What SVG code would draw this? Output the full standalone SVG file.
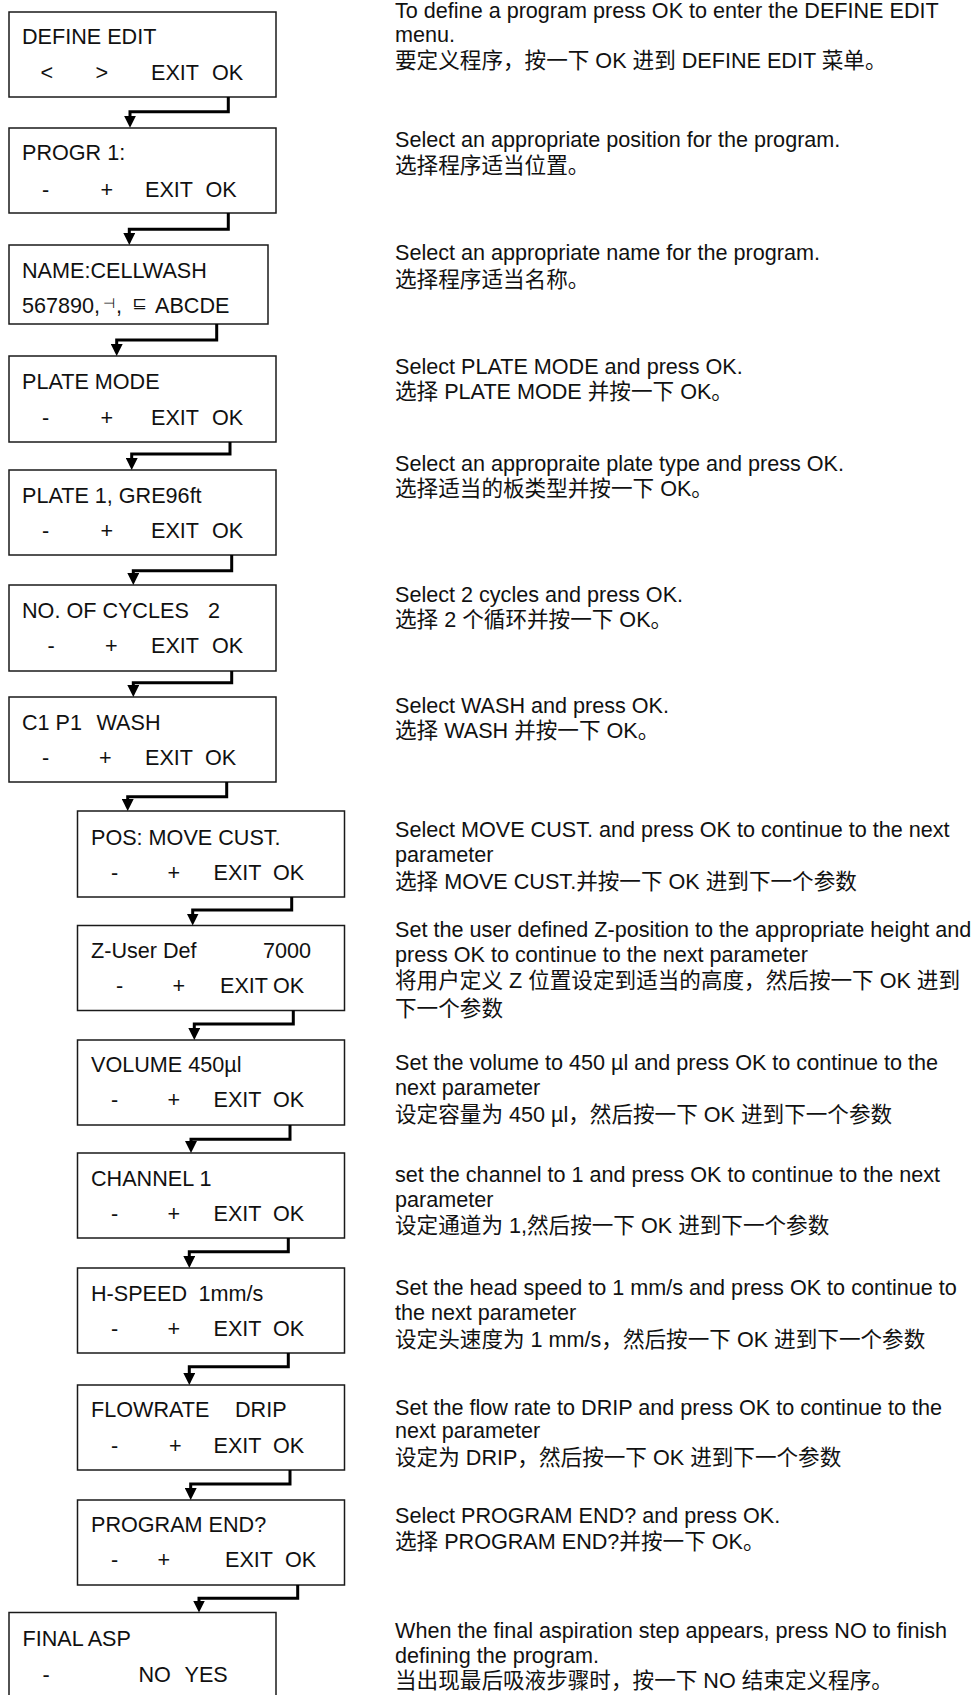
<svg xmlns="http://www.w3.org/2000/svg" width="976" height="1695" viewBox="0 0 976 1695">
<style>
.box{fill:#fff;stroke:#1a1a1a;stroke-width:1.5}
.b{font-family:"Liberation Sans",Arial,sans-serif;font-size:21.6px;fill:#111}
.t{font-family:"Liberation Sans",Arial,"Noto Sans CJK SC",sans-serif;font-size:21.6px;fill:#111}
.sym{font-family:"DejaVu Sans",sans-serif;font-size:14px;fill:#111}
.c{fill:none;stroke:#000;stroke-width:3;marker-end:url(#ah)}
</style>
<defs>
<marker id="ah" viewBox="0 0 12 12" refX="4" refY="6" markerWidth="12" markerHeight="12" markerUnits="userSpaceOnUse" orient="auto"><path d="M0,0 L12,6 L0,12 z" fill="#000"/></marker>
</defs>
<rect width="976" height="1695" fill="#fff"/>

<g id="n1"><rect class="box" x="9" y="12" width="267" height="85"/>
<text class="b" x="22" y="44">DEFINE EDIT</text>
<text class="b" x="40.5" y="80">&lt;</text><text class="b" x="95.5" y="80">&gt;</text><text class="b" x="151" y="80">EXIT</text><text class="b" x="212" y="80">OK</text></g>

<g id="n2"><rect class="box" x="9" y="128" width="267" height="85"/>
<text class="b" x="22" y="160">PROGR 1:</text>
<text class="b" x="42" y="196.7">-</text><text class="b" x="100.5" y="196.7">+</text><text class="b" x="145" y="196.7">EXIT</text><text class="b" x="205.5" y="196.7">OK</text></g>

<g id="n3"><rect class="box" x="9" y="245" width="259" height="79"/>
<text class="b" x="22" y="278.3">NAME:CELLWASH</text>
<text class="b" x="22" y="313.3">567890,</text><text class="sym" x="103" y="307.5">⊣</text><text class="b" x="116" y="313.3">,</text><text class="sym" transform="translate(132,307.5) scale(1.25,1)" x="0" y="0">⊑</text><text class="b" x="155" y="313.3">ABCDE</text></g>

<g id="n4"><rect class="box" x="9" y="356" width="267" height="86"/>
<text class="b" x="22" y="389">PLATE MODE</text>
<text class="b" x="42" y="425">-</text><text class="b" x="100.5" y="425">+</text><text class="b" x="151" y="425">EXIT</text><text class="b" x="212" y="425">OK</text></g>

<g id="n5"><rect class="box" x="9" y="470" width="267" height="85"/>
<text class="b" x="22" y="502.7">PLATE 1, GRE96ft</text>
<text class="b" x="42" y="538.3">-</text><text class="b" x="100.5" y="538.3">+</text><text class="b" x="151" y="538.3">EXIT</text><text class="b" x="212" y="538.3">OK</text></g>

<g id="n6"><rect class="box" x="9" y="585" width="267" height="86"/>
<text class="b" x="22" y="617.7">NO. OF CYCLES</text><text class="b" x="208" y="617.7">2</text>
<text class="b" x="47.5" y="653.3">-</text><text class="b" x="105" y="653.3">+</text><text class="b" x="151" y="653.3">EXIT</text><text class="b" x="212" y="653.3">OK</text></g>

<g id="n7"><rect class="box" x="9" y="697" width="267" height="85"/>
<text class="b" x="22" y="730">C1 P1</text><text class="b" x="96.5" y="730">WASH</text>
<text class="b" x="42" y="765">-</text><text class="b" x="99" y="765">+</text><text class="b" x="145" y="765">EXIT</text><text class="b" x="205" y="765">OK</text></g>

<g id="n8"><rect class="box" x="77.5" y="811" width="267" height="86"/>
<text class="b" x="91" y="845">POS: MOVE CUST.</text>
<text class="b" x="111" y="880">-</text><text class="b" x="167.5" y="880">+</text><text class="b" x="213.5" y="880">EXIT</text><text class="b" x="273" y="880">OK</text></g>

<g id="n9"><rect class="box" x="77.5" y="925.5" width="267" height="85"/>
<text class="b" x="91" y="957.7">Z-User Def</text><text class="b" x="263" y="957.7">7000</text>
<text class="b" x="116" y="992.7">-</text><text class="b" x="172.5" y="992.7">+</text><text class="b" x="220" y="992.7">EXIT</text><text class="b" x="273" y="992.7">OK</text></g>

<g id="n10"><rect class="box" x="77.5" y="1040" width="267" height="85"/>
<text class="b" x="91" y="1072.3">VOLUME 450µl</text>
<text class="b" x="111" y="1107.3">-</text><text class="b" x="167.5" y="1107.3">+</text><text class="b" x="213.5" y="1107.3">EXIT</text><text class="b" x="273" y="1107.3">OK</text></g>

<g id="n11"><rect class="box" x="77.5" y="1153" width="267" height="85"/>
<text class="b" x="91" y="1185.7">CHANNEL 1</text>
<text class="b" x="111" y="1220.7">-</text><text class="b" x="167.5" y="1220.7">+</text><text class="b" x="213.5" y="1220.7">EXIT</text><text class="b" x="273" y="1220.7">OK</text></g>

<g id="n12"><rect class="box" x="77.5" y="1268" width="267" height="85"/>
<text class="b" x="91" y="1300.7">H-SPEED</text><text class="b" x="198.5" y="1300.7">1mm/s</text>
<text class="b" x="111" y="1335.7">-</text><text class="b" x="167.5" y="1335.7">+</text><text class="b" x="213.5" y="1335.7">EXIT</text><text class="b" x="273" y="1335.7">OK</text></g>

<g id="n13"><rect class="box" x="77.5" y="1385" width="267" height="85"/>
<text class="b" x="91" y="1416.7">FLOWRATE</text><text class="b" x="235" y="1416.7">DRIP</text>
<text class="b" x="111" y="1452.7">-</text><text class="b" x="169" y="1452.7">+</text><text class="b" x="213.5" y="1452.7">EXIT</text><text class="b" x="273" y="1452.7">OK</text></g>

<g id="n14"><rect class="box" x="77.5" y="1500" width="267" height="85"/>
<text class="b" x="91" y="1531.7">PROGRAM END?</text>
<text class="b" x="111" y="1567.3">-</text><text class="b" x="157.5" y="1567.3">+</text><text class="b" x="225" y="1567.3">EXIT</text><text class="b" x="285" y="1567.3">OK</text></g>

<g id="n15"><rect class="box" x="9" y="1612.5" width="267" height="100"/>
<text class="b" x="22.5" y="1645.7">FINAL ASP</text>
<text class="b" x="42.5" y="1681.7">-</text><text class="b" x="138.5" y="1681.7">NO</text><text class="b" x="184.5" y="1681.7">YES</text></g>

<g id="connectors">
<path class="c" d="M228.3,97 V111.7 H130 V119.7"/>
<path class="c" d="M228.3,213 V229.3 H129.3 V237"/>
<path class="c" d="M216.7,324 V340 H116.7 V348"/>
<path class="c" d="M230,442 V454 H131.7 V462"/>
<path class="c" d="M231.7,555 V570.7 H133.3 V577"/>
<path class="c" d="M231.7,671 V682.7 H133.3 V689"/>
<path class="c" d="M226.7,782 V796.7 H127.7 V803"/>
<path class="c" d="M291.7,897 V910 H192.7 V917.5"/>
<path class="c" d="M293.3,1010.5 V1024 H194.3 V1032"/>
<path class="c" d="M290,1125 V1139.3 H191 V1145"/>
<path class="c" d="M288.3,1238 V1251.7 H189.3 V1260"/>
<path class="c" d="M288.3,1353 V1366.7 H189.3 V1377"/>
<path class="c" d="M290,1470 V1484 H190.7 V1492"/>
<path class="c" d="M297.7,1585 V1598.3 H199 V1604.5"/>
</g>

<g id="descriptions">
<text class="t" x="395" y="18.3">To define a program press OK to enter the DEFINE EDIT</text>
<text class="t" x="395" y="41.7">menu.</text>
<text class="t" x="395" y="68.3">要定义程序，按一下 OK 进到 DEFINE EDIT 菜单。</text>
<text class="t" x="395" y="146.7">Select an appropriate position for the program.</text>
<text class="t" x="395" y="173.3">选择程序适当位置。</text>
<text class="t" x="395" y="260">Select an appropriate name for the program.</text>
<text class="t" x="395" y="286.7">选择程序适当名称。</text>
<text class="t" x="395" y="374">Select PLATE MODE and press OK.</text>
<text class="t" x="395" y="399.3">选择 PLATE MODE 并按一下 OK。</text>
<text class="t" x="395" y="470.7">Select an appropraite plate type and press OK.</text>
<text class="t" x="395" y="496">选择适当的板类型并按一下 OK。</text>
<text class="t" x="395" y="601.7">Select 2 cycles and press OK.</text>
<text class="t" x="395" y="627.3">选择 2 个循环并按一下 OK。</text>
<text class="t" x="395" y="712.7">Select WASH and press OK.</text>
<text class="t" x="395" y="738.3">选择 WASH 并按一下 OK。</text>
<text class="t" x="395" y="836.7">Select MOVE CUST. and press OK to continue to the next</text>
<text class="t" x="395" y="861.7">parameter</text>
<text class="t" x="395" y="889.3">选择 MOVE CUST.并按一下 OK 进到下一个参数</text>
<text class="t" x="395" y="936.7">Set the user defined Z-position to the appropriate height and</text>
<text class="t" x="395" y="961.7">press OK to continue to the next parameter</text>
<text class="t" x="395" y="988.3">将用户定义 Z 位置设定到适当的高度，然后按一下 OK 进到</text>
<text class="t" x="395" y="1016">下一个参数</text>
<text class="t" x="395" y="1070">Set the volume to 450 µl and press OK to continue to the</text>
<text class="t" x="395" y="1095">next parameter</text>
<text class="t" x="395" y="1121.7">设定容量为 450 µl，然后按一下 OK 进到下一个参数</text>
<text class="t" x="395" y="1181.7">set the channel to 1 and press OK to continue to the next</text>
<text class="t" x="395" y="1206.7">parameter</text>
<text class="t" x="395" y="1233.3">设定通道为 1,然后按一下 OK 进到下一个参数</text>
<text class="t" x="395" y="1295">Set the head speed to 1 mm/s and press OK to continue to</text>
<text class="t" x="395" y="1320">the next parameter</text>
<text class="t" x="395" y="1347.3">设定头速度为 1 mm/s，然后按一下 OK 进到下一个参数</text>
<text class="t" x="395" y="1415">Set the flow rate to DRIP and press OK to continue to the</text>
<text class="t" x="395" y="1438.3">next parameter</text>
<text class="t" x="395" y="1465">设定为 DRIP，然后按一下 OK 进到下一个参数</text>
<text class="t" x="395" y="1523.3">Select PROGRAM END? and press OK.</text>
<text class="t" x="395" y="1549.3">选择 PROGRAM END?并按一下 OK。</text>
<text class="t" x="395" y="1638.3">When the final aspiration step appears, press NO to finish</text>
<text class="t" x="395" y="1663.3">defining the program.</text>
<text class="t" x="395" y="1688.3">当出现最后吸液步骤时，按一下 NO 结束定义程序。</text>
</g>
</svg>
